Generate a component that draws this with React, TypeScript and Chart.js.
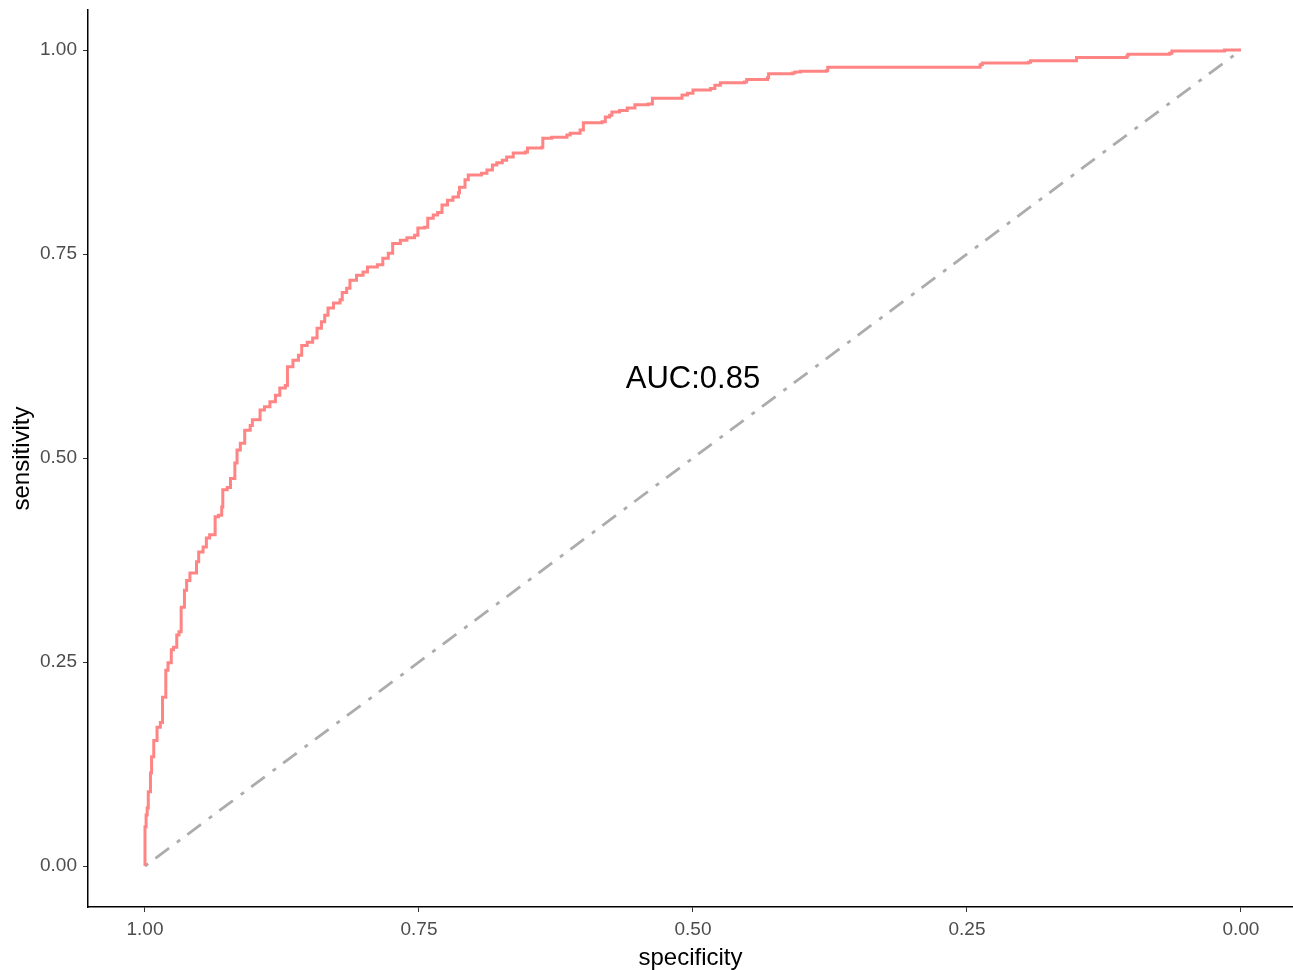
import React, { useEffect, useRef } from "react";
import { Chart, registerables } from "chart.js";

Chart.register(...registerables);

// ROC curve (specificity, sensitivity)
const rocSpecificity = [
  1.0, 1.0, 0.999, 0.998, 0.997, 0.995, 0.994, 0.992, 0.989, 0.986,
  0.984, 0.981, 0.979, 0.976, 0.974, 0.971, 0.969, 0.967, 0.964, 0.962,
  0.959, 0.953, 0.951, 0.947, 0.944, 0.941, 0.936, 0.933, 0.93, 0.929,
  0.925, 0.922, 0.918, 0.916, 0.913, 0.909, 0.904, 0.902, 0.895, 0.891,
  0.886, 0.881, 0.877, 0.872, 0.87, 0.865, 0.86, 0.857, 0.852, 0.847,
  0.843, 0.839, 0.836, 0.833, 0.828, 0.822, 0.82, 0.816, 0.813, 0.807,
  0.801, 0.797, 0.788, 0.783, 0.778, 0.774, 0.767, 0.761, 0.754, 0.751,
  0.745, 0.742, 0.737, 0.733, 0.729, 0.724, 0.719, 0.714, 0.713, 0.708,
  0.705, 0.693, 0.688, 0.683, 0.679, 0.674, 0.67, 0.664, 0.653, 0.651,
  0.638, 0.637, 0.629, 0.615, 0.612, 0.603, 0.6, 0.583, 0.58, 0.576,
  0.574, 0.567, 0.56, 0.553, 0.541, 0.537, 0.514, 0.51, 0.505, 0.5,
  0.484, 0.48, 0.475, 0.453, 0.451, 0.432, 0.431, 0.409, 0.407, 0.402,
  0.378, 0.377, 0.241, 0.238, 0.236, 0.194, 0.192, 0.153, 0.15, 0.104,
  0.103, 0.065, 0.063, 0.016, 0.015, 0.0,
];
const rocSensitivity = [
  0.0, 0.048, 0.0625, 0.071, 0.091, 0.114, 0.134, 0.154, 0.17, 0.176,
  0.207, 0.24, 0.249, 0.265, 0.268, 0.283, 0.287, 0.317, 0.338, 0.35,
  0.359, 0.373, 0.385, 0.391, 0.402, 0.406, 0.428, 0.43, 0.44, 0.461,
  0.464, 0.475, 0.494, 0.51, 0.518, 0.534, 0.54, 0.547, 0.559, 0.563,
  0.569, 0.577, 0.586, 0.589, 0.612, 0.62, 0.626, 0.638, 0.642, 0.647,
  0.659, 0.667, 0.675, 0.684, 0.69, 0.694, 0.703, 0.708, 0.718, 0.724,
  0.728, 0.734, 0.737, 0.745, 0.751, 0.763, 0.767, 0.77, 0.773, 0.782,
  0.783, 0.794, 0.798, 0.801, 0.81, 0.816, 0.82, 0.825, 0.832, 0.841,
  0.847, 0.849, 0.853, 0.859, 0.862, 0.865, 0.869, 0.874, 0.875, 0.88,
  0.881, 0.892, 0.893, 0.896, 0.898, 0.902, 0.911, 0.912, 0.918, 0.92,
  0.924, 0.926, 0.929, 0.933, 0.934, 0.941, 0.941, 0.945, 0.947, 0.951,
  0.953, 0.957, 0.96, 0.961, 0.964, 0.966, 0.971, 0.972, 0.973, 0.974,
  0.975, 0.979, 0.979, 0.982, 0.984, 0.985, 0.987, 0.987, 0.991, 0.993,
  0.995, 0.996, 0.999, 0.999, 1.0, 1.0,
];

// chance diagonal
const diagSpecificity = [1, 0];
const diagSensitivity = [0, 1];

const tickValues = [0, 0.25, 0.5, 0.75, 1];
const xTitle = "specificity";
const yTitle = "sensitivity";
const aucLabel = "AUC:0.85";
const aucAt = { specificity: 0.5, sensitivity: 0.6 };

const FONT = "'Liberation Sans', Arial, sans-serif";

export default function App() {
  const ref = useRef<HTMLCanvasElement | null>(null);

  useEffect(() => {
    const canvas = ref.current;
    if (!canvas) return;

    const aucPlugin = {
      id: "aucText",
      afterDatasetsDraw(chart: any) {
        const { ctx, scales } = chart;
        const size = 31;
        const x = scales.x.getPixelForValue(aucAt.specificity);
        const y = scales.y.getPixelForValue(aucAt.sensitivity);
        ctx.save();
        ctx.font = `${size}px ${FONT}`;
        ctx.fillStyle = "#000000";
        ctx.textAlign = "center";
        ctx.textBaseline = "alphabetic";
        ctx.fillText(aucLabel, x, y + (size * 0.716) / 2);
        ctx.restore();
      },
    };

    const setTicks = (scale: any) => {
      scale.ticks = tickValues.map((v) => ({ value: v }));
    };

    const chart = new Chart(canvas, {
      type: "line",
      data: {
        datasets: [
          {
            label: "ROC",
            data: rocSpecificity.map((s, i) => ({ x: s, y: rocSensitivity[i] })),
            borderColor: "rgb(255,132,132)",
            borderWidth: 3,
            pointRadius: 0,
            stepped: "before",
            fill: false,
            tension: 0,
          },
          {
            label: "diagonal",
            data: diagSpecificity.map((s, i) => ({ x: s, y: diagSensitivity[i] })),
            borderColor: "rgb(172,172,172)",
            borderWidth: 2.8,
            borderDash: [4, 9, 17, 9.8],
            pointRadius: 0,
            fill: false,
          },
        ],
      },
      options: {
        responsive: false,
        animation: false,
        devicePixelRatio: 1,
        layout: { padding: { top: 10, right: 0, bottom: 0, left: 0 } },
        plugins: {
          legend: { display: false },
          tooltip: { enabled: false },
        },
        scales: {
          x: {
            type: "linear",
            reverse: true,
            min: -0.0475,
            max: 1.052,
            afterBuildTicks: setTicks,
            afterFit: (scale: any) => {
              scale.height = 63;
              scale.paddingLeft = 0;
              scale.paddingRight = 0;
            },
            grid: {
              drawOnChartArea: false,
              drawTicks: true,
              tickLength: 5,
              color: "#333333",
              lineWidth: 1,
            },
            border: { display: true, color: "#000000", width: 1.5 },
            ticks: {
              padding: 6,
              color: "#4d4d4d",
              font: { family: FONT, size: 19 },
              maxRotation: 0,
              callback: (v: any) => Number(v).toFixed(2),
            },
            title: {
              display: true,
              text: xTitle,
              color: "#000000",
              font: { family: FONT, size: 24, lineHeight: 1 },
              padding: { top: 0, bottom: 0 },
            },
          },
          y: {
            type: "linear",
            min: -0.0502,
            max: 1.0491,
            afterBuildTicks: setTicks,
            afterFit: (scale: any) => {
              scale.width = 88;
              scale.paddingTop = 0;
              scale.paddingBottom = 0;
            },
            grid: {
              drawOnChartArea: false,
              drawTicks: true,
              tickLength: 5,
              color: "#333333",
              lineWidth: 1,
            },
            border: { display: true, color: "#000000", width: 1.5 },
            ticks: {
              padding: 6,
              color: "#4d4d4d",
              font: { family: FONT, size: 19 },
              callback: (v: any) => Number(v).toFixed(2),
            },
            title: {
              display: true,
              text: yTitle,
              color: "#000000",
              font: { family: FONT, size: 24, lineHeight: 1 },
              padding: { top: 10.5, bottom: 0 },
            },
          },
        },
      },
      plugins: [aucPlugin],
    } as any);

    return () => chart.destroy();
  }, []);

  return (
    <div style={{ position: "absolute", left: 0, top: 0, width: 1293, height: 970, background: "#ffffff" }}>
      <canvas ref={ref} width={1293} height={970} style={{ display: "block" }} />
    </div>
  );
}
